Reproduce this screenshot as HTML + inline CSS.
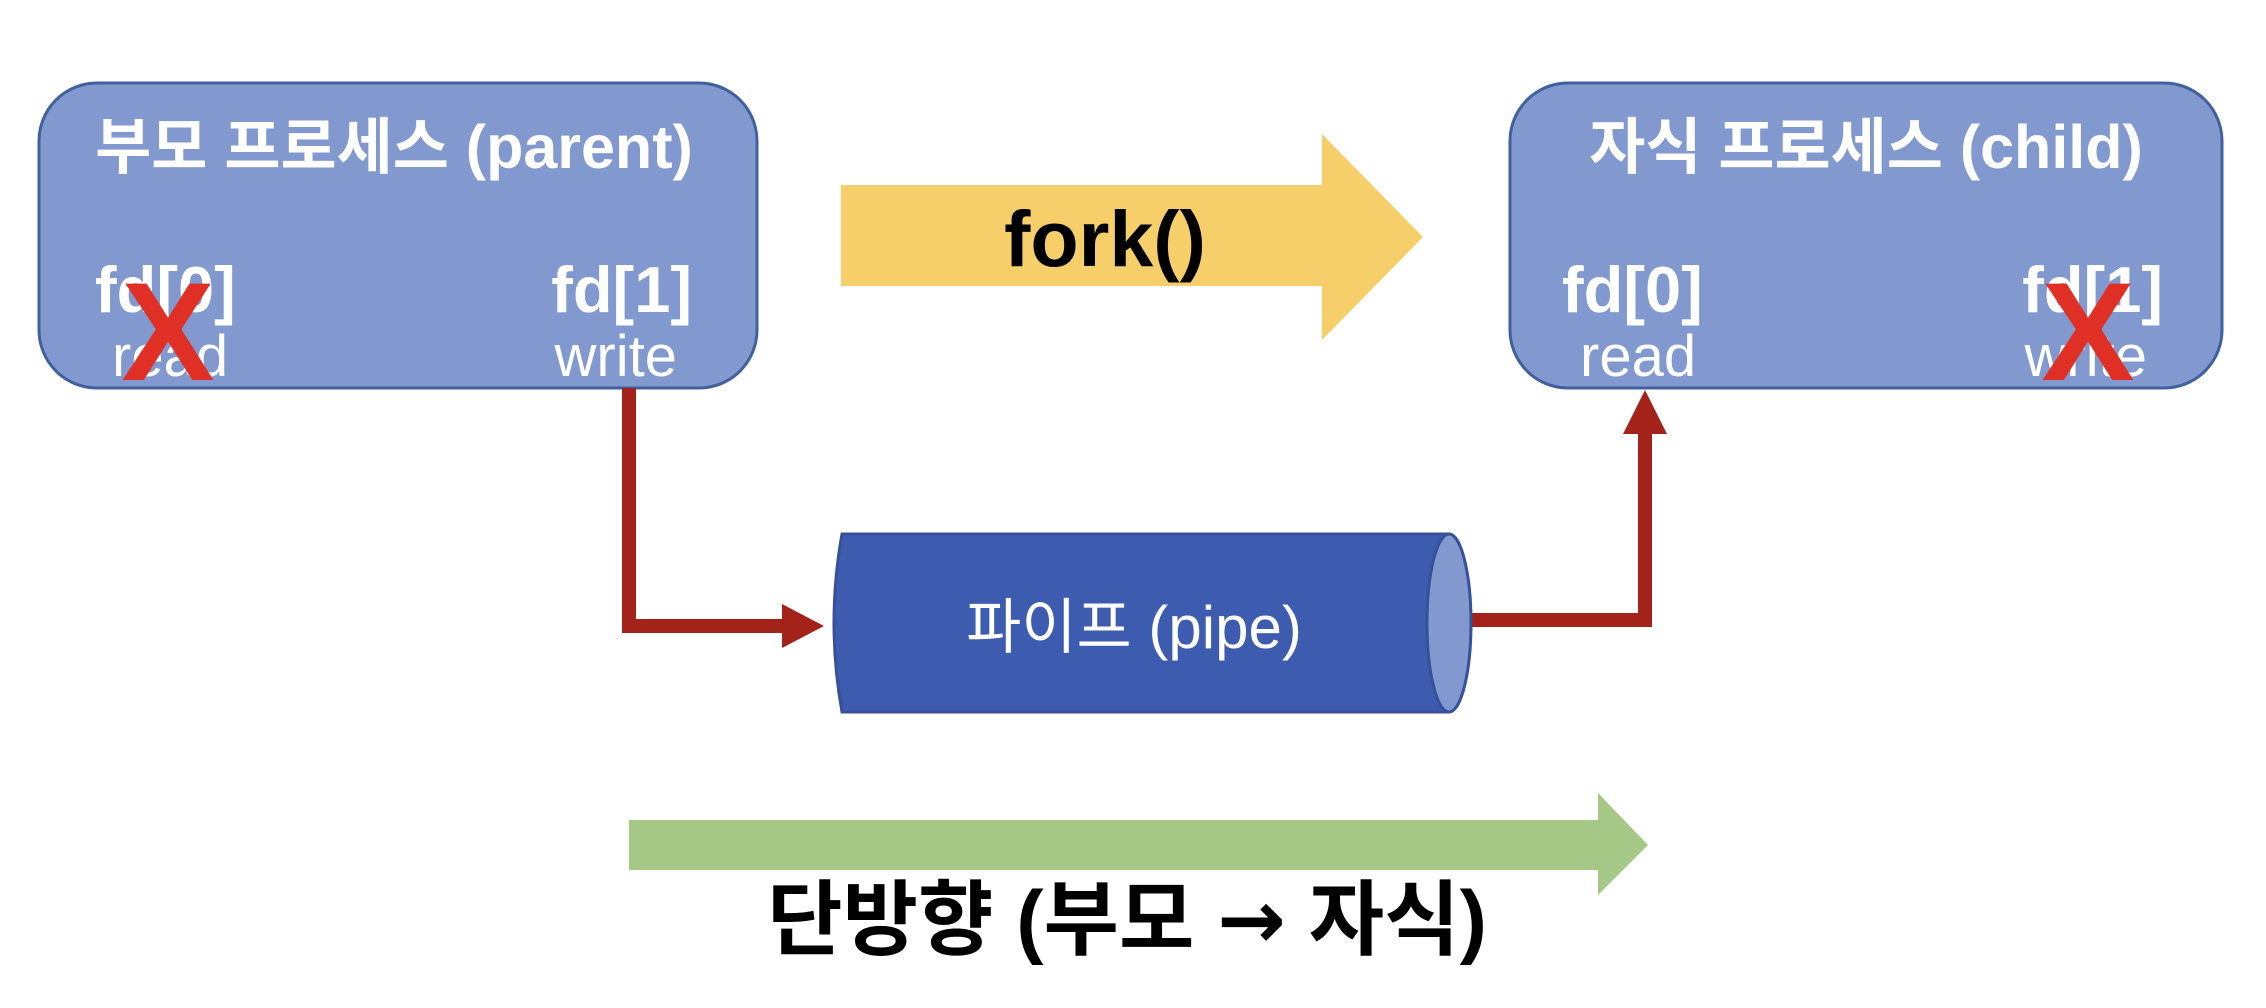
<!DOCTYPE html>
<html><head><meta charset="utf-8"><style>
html,body{margin:0;padding:0;background:#fff;}
svg{display:block;}
text{font-family:"Liberation Sans","Noto Sans CJK KR",sans-serif;}
</style></head><body>
<svg width="2266" height="1008" viewBox="0 0 2266 1008" xmlns="http://www.w3.org/2000/svg">
<!-- parent box -->
<rect x="39" y="83" width="718" height="305" rx="58" fill="#8199cf" stroke="#41609e" stroke-width="3"/>
<text x="394" y="168" fill="#fff" font-size="61" font-weight="bold" text-anchor="middle">부모 프로세스 (parent)</text>
<text x="95" y="312" fill="#fff" font-size="65" font-weight="bold">fd[0]</text>
<text x="112" y="376" fill="#fff" font-size="58">read</text>
<text x="692" y="312" fill="#fff" font-size="65" font-weight="bold" text-anchor="end">fd[1]</text>
<text x="677" y="376" fill="#fff" font-size="58" text-anchor="end">write</text>
<text x="168" y="380" fill="#e03025" font-size="140" font-weight="bold" text-anchor="middle">X</text>
<!-- child box -->
<rect x="1510" y="83" width="712" height="305" rx="58" fill="#8199cf" stroke="#41609e" stroke-width="3"/>
<text x="1866" y="168" fill="#fff" font-size="61" font-weight="bold" text-anchor="middle">자식 프로세스 (child)</text>
<text x="1562" y="312" fill="#fff" font-size="65" font-weight="bold">fd[0]</text>
<text x="1580" y="376" fill="#fff" font-size="58">read</text>
<text x="2163" y="312" fill="#fff" font-size="65" font-weight="bold" text-anchor="end">fd[1]</text>
<text x="2147" y="376" fill="#fff" font-size="58" text-anchor="end">write</text>
<text x="2088" y="380" fill="#e03025" font-size="140" font-weight="bold" text-anchor="middle">X</text>
<!-- fork arrow -->
<polygon points="841,185 1322,185 1322,134 1423,237 1322,340 1322,286 841,286" fill="#f6cf6a"/>
<text x="1105" y="266" fill="#000" font-size="79" font-weight="bold" text-anchor="middle">fork()</text>
<!-- red connectors -->
<polyline points="629,388 629,626 785,626" fill="none" stroke="#a3231b" stroke-width="14"/>
<polygon points="782,604 824,626 782,648" fill="#a3231b"/>
<polyline points="1471,620 1645,620 1645,432" fill="none" stroke="#a3231b" stroke-width="14"/>
<polygon points="1623,434 1645,390 1667,434" fill="#a3231b"/>
<!-- pipe -->
<path d="M842,534 L1449,534 L1449,712 L842,712 Q826,623 842,534 Z" fill="#3d5cb0" stroke="#36509a" stroke-width="3"/>
<ellipse cx="1449" cy="623" rx="22" ry="89" fill="#8199cf" stroke="#36509a" stroke-width="3"/>
<text x="1134" y="648" fill="#fff" font-size="60" text-anchor="middle">파이프 (pipe)</text>
<!-- green arrow -->
<polygon points="629,820 1598,820 1598,793 1648,845 1598,895 1598,870 629,870" fill="#a6c886"/>
<text x="1127" y="948" fill="#000" font-size="82" font-weight="bold" text-anchor="middle">단방향 (부모 <tspan font-family="DejaVu Sans, sans-serif">→</tspan> 자식)</text>
</svg>
</body></html>
